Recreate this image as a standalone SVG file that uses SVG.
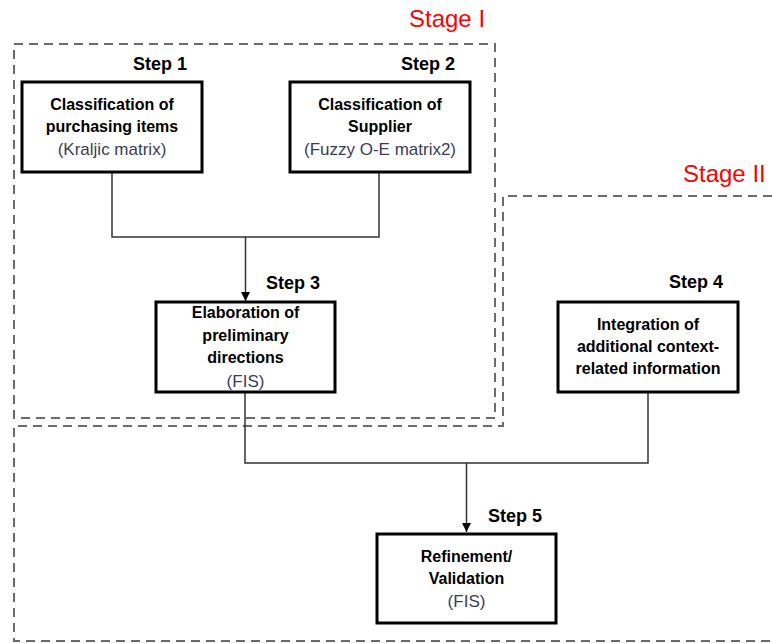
<svg xmlns="http://www.w3.org/2000/svg" width="772" height="643" viewBox="0 0 772 643">
<defs>
<style>
.stage{fill:none;stroke:#6b6b6b;stroke-width:2;stroke-dasharray:9,6}
.stlabel{font-family:"Liberation Sans",Arial,sans-serif;font-size:24px;fill:#ff0000}
.box{fill:#fff;stroke:#000;stroke-width:3}
.step{font-family:"Liberation Sans",Arial,sans-serif;font-size:18px;font-weight:bold;fill:#000}
.b{font-family:"Liberation Sans",Arial,sans-serif;font-size:16px;font-weight:bold;fill:#000;text-anchor:middle}
.r{font-family:"Liberation Sans",Arial,sans-serif;font-size:17px;fill:#3c3c58;text-anchor:middle}
.con{fill:none;stroke:#333;stroke-width:1.5}
</style>
<marker id="arr" viewBox="0 0 10 10" refX="10" refY="5" markerWidth="9" markerHeight="9" markerUnits="userSpaceOnUse" orient="auto">
<path d="M0,0 L10,5 L0,10 z" fill="#000"/>
</marker>
</defs>
<rect width="772" height="643" fill="#fff"/>
<g id="stage1">
<rect class="stage" x="14" y="44" width="481" height="374"/>
<text class="stlabel" x="409" y="27">Stage I</text>
</g>
<g id="stage2">
<path class="stage" d="M772,196 H503 V426 H14 V641 H772"/>
<text class="stlabel" x="683" y="182">Stage II</text>
</g>
<g id="connectors">
<path class="con" d="M112,172 V237 H379 V172"/>
<path class="con" d="M245.5,237 V301" marker-end="url(#arr)"/>
<path class="con" d="M245,392 V463 H648 V392"/>
<path class="con" d="M466.5,463 V532" marker-end="url(#arr)"/>
</g>
<g id="step1">
<text class="step" x="133" y="70">Step 1</text>
<rect class="box" x="22" y="82" width="180" height="90"/>
<text class="b" x="112" y="110">Classification of</text>
<text class="b" x="112" y="132">purchasing items</text>
<text class="r" x="112" y="155">(Kraljic matrix)</text>
</g>
<g id="step2">
<text class="step" x="401" y="70">Step 2</text>
<rect class="box" x="290" y="82" width="180" height="90"/>
<text class="b" x="380" y="110">Classification of</text>
<text class="b" x="380" y="132">Supplier</text>
<text class="r" x="380" y="155">(Fuzzy O-E matrix2)</text>
</g>
<g id="step3">
<text class="step" x="266" y="289">Step 3</text>
<rect class="box" x="156" y="302" width="179" height="90"/>
<text class="b" x="245.5" y="318">Elaboration of</text>
<text class="b" x="245.5" y="341">preliminary</text>
<text class="b" x="245.5" y="363">directions</text>
<text class="r" x="245.5" y="387">(FIS)</text>
</g>
<g id="step4">
<text class="step" x="669" y="288">Step 4</text>
<rect class="box" x="558" y="302" width="180" height="90"/>
<text class="b" x="648" y="330">Integration of</text>
<text class="b" x="648" y="352">additional context-</text>
<text class="b" x="648" y="374">related information</text>
</g>
<g id="step5">
<text class="step" x="488" y="522">Step 5</text>
<rect class="box" x="377" y="534" width="179" height="89"/>
<text class="b" x="466.5" y="562">Refinement/</text>
<text class="b" x="466.5" y="584">Validation</text>
<text class="r" x="466.5" y="607">(FIS)</text>
</g>
</svg>
